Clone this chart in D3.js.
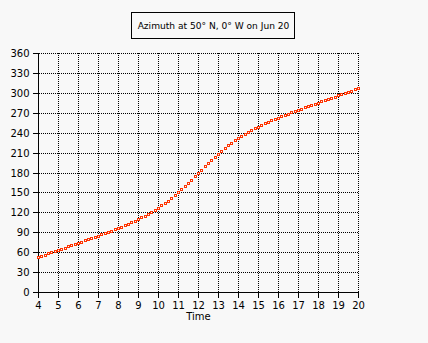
<!DOCTYPE html>
<html>
<head>
<meta charset="utf-8">
<script src="https://cdn.jsdelivr.net/npm/d3@7"></script>
<style>
  html, body { margin: 0; padding: 0; background: #f8f8f8; }
  svg { display: block; }
  text { font-family: "DejaVu Sans", Verdana, sans-serif; fill: #000; }
</style>
</head>
<body>
<svg id="chart" width="428" height="343" shape-rendering="crispEdges"></svg>
<script>
const title = "Azimuth at 50° N, 0° W on Jun 20";
const xLabel = "Time";
const xTicks = [4, 5, 6, 7, 8, 9, 10, 11, 12, 13, 14, 15, 16, 17, 18, 19, 20];
const yTicks = [0, 30, 60, 90, 120, 150, 180, 210, 240, 270, 300, 330, 360];
const startHour = 4;
const stepMinutes = 10;
// Azimuth (degrees) every 10 minutes from 4:00 to 20:00
const azimuth = [
  52.3, 54.2, 56.1, 58.0, 59.8, 61.6, 63.5, 65.3, 67.0, 68.8, 70.6, 72.4,
  74.2, 75.9, 77.7, 79.5, 81.3, 83.1, 85.0, 86.8, 88.7, 90.6, 92.5, 94.5,
  96.6, 98.6, 100.8, 103.0, 105.3, 107.6, 110.0, 112.6, 115.2, 118.0, 120.9, 123.9,
  127.1, 130.4, 134.0, 137.7, 141.6, 145.7, 150.1, 154.6, 159.2, 164.1, 169.1, 174.1,
  179.2,
  184.4, 189.4, 194.4, 199.3, 204.1, 208.6, 213.0, 217.2, 221.1, 224.9, 228.5, 231.9,
  235.2, 238.2, 241.2, 244.0, 246.7, 249.2, 251.7, 254.1, 256.4, 258.6, 260.7, 262.8,
  264.9, 266.9, 268.8, 270.7, 272.6, 274.5, 276.3, 278.1, 280.0, 281.7, 283.5, 285.3,
  287.1, 288.9, 290.6, 292.4, 294.2, 296.0, 297.8, 299.7, 301.5, 303.3, 305.2, 307.1
];

const svg = d3.select("#chart");
svg.append("rect").attr("width", 428).attr("height", 343).attr("fill", "#f8f8f8");

const x = d3.scaleLinear().domain([4, 20]).range([38.5, 358.5]);
const y = d3.scaleLinear().domain([0, 360]).range([292.5, 53.5]);
const px = v => Math.round(x(v) - 0.5) + 0.5;
const py = v => Math.round(y(v) - 0.5) + 0.5;

// grid (dotted, 1 on / 1 off, aligned to whole pixels)
const grid = svg.append("g");
grid.selectAll("line.v").data(xTicks.filter(d => d > 4)).enter().append("line")
  .attr("x1", px).attr("x2", px)
  .attr("y1", Math.floor(y(360))).attr("y2", Math.ceil(y(0)))
  .attr("stroke", "#000").attr("stroke-width", 1).attr("stroke-dasharray", "1,1");
grid.selectAll("line.h").data(yTicks.filter(d => d > 0)).enter().append("line")
  .attr("x1", Math.ceil(x(4))).attr("x2", Math.ceil(x(20)))
  .attr("y1", py).attr("y2", py)
  .attr("stroke", "#000").attr("stroke-width", 1).attr("stroke-dasharray", "1,1");

// axes
const yAxis = d3.axisLeft(y).tickValues(yTicks).tickSize(6).tickPadding(3).tickFormat(d3.format("d"));
const gy = svg.append("g").attr("transform", `translate(${x(4)},0)`).call(yAxis);
const xAxis = d3.axisBottom(x).tickValues(xTicks).tickSize(5).tickPadding(4).tickFormat(d3.format("d"));
const gx = svg.append("g").attr("transform", `translate(0,${y(0)})`).call(xAxis);
[gx, gy].forEach(g => {
  g.select(".domain").attr("stroke", "#000").attr("stroke-width", 1)
    .attr("d", g === gx ? `M${x(4)},0H${x(20)}` : `M0,${y(0)}V${y(360)}`);
  g.selectAll(".tick line").attr("stroke", "#000");
  g.selectAll(".tick text").attr("font-family", "DejaVu Sans").attr("font-size", 10).attr("fill", "#000");
});
gy.selectAll(".tick").attr("transform", d => `translate(0,${py(d)})`);
gx.selectAll(".tick").attr("transform", d => `translate(${px(d)},0)`);

// x label
svg.append("text").attr("x", (x(4) + x(20)) / 2).attr("y", 320)
  .attr("text-anchor", "middle").attr("font-size", 10).text(xLabel);

// data markers
const pts = azimuth.map((v, i) => ({ t: startHour + i * stepMinutes / 60, v }));
svg.append("g").selectAll("rect").data(pts).enter().append("rect")
  .attr("x", d => Math.floor(x(d.t)) - 0.5)
  .attr("y", d => Math.floor(y(d.v)) - 0.5)
  .attr("width", 2).attr("height", 2)
  .attr("fill", "#f8f8f8").attr("stroke", "#ff3300").attr("stroke-width", 1);

// title box
const tt = svg.append("text").attr("x", 213.5).attr("y", 28.5)
  .attr("text-anchor", "middle").attr("font-size", 10).text(title);
const w = tt.node().getComputedTextLength();
if (w > 0) tt.attr("font-size", 10 * 152 / w);
svg.append("rect").attr("x", 131.5).attr("y", 12.5).attr("width", 163).attr("height", 26)
  .attr("fill", "none").attr("stroke", "#000").attr("stroke-width", 1);
</script>
</body>
</html>
